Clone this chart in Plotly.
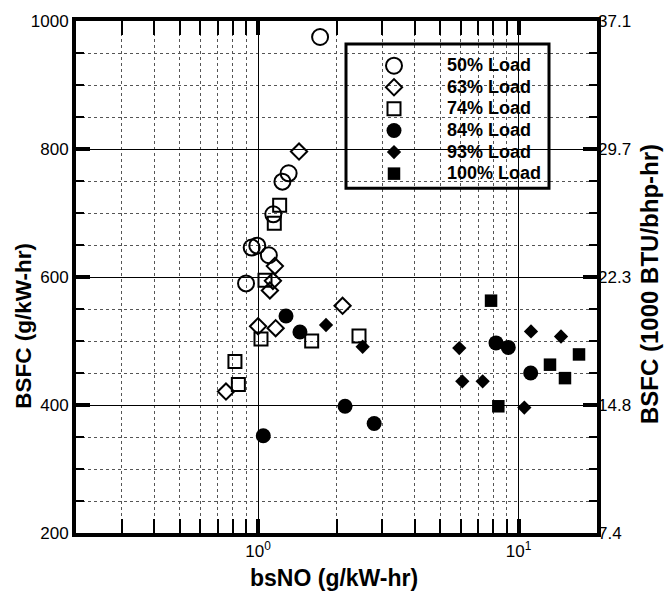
import plotly.graph_objects as go
import math

# ---- data ----
x50 = [1.73, 1.31, 1.24, 1.144, 0.945, 0.993, 1.10, 0.899]
y50 = [975, 762, 749, 698, 646, 649, 634, 590]
x63 = [1.436, 1.16, 1.14, 1.11, 2.11, 1.0, 1.168, 0.753]
y63 = [796, 617, 594, 579, 555, 523, 520, 421]
x74 = [1.21, 1.154, 1.063, 1.026, 1.606, 2.44, 0.815, 0.84]
y74 = [712, 684, 595, 503, 500, 508, 468, 432]
x84 = [1.28, 1.448, 2.157, 2.79, 1.047, 8.19, 9.13, 11.13]
y84 = [539, 514, 398, 371, 352, 497, 490, 450]
x93 = [1.823, 2.52, 5.92, 6.08, 7.28, 11.16, 14.55, 10.52]
y93 = [525, 491, 489, 437, 437, 515, 507, 396]
x100 = [7.84, 8.36, 13.2, 15.07, 17.06]
y100 = [563, 398, 463, 442, 479]

labels = ["50% Load", "63% Load", "74% Load", "84% Load", "93% Load", "100% Load"]

x_major = [1, 10]
x_major_text = ["10<sup>0</sup>", "10<sup>1</sup>"]
x_minor = [0.3, 0.4, 0.5, 0.6, 0.7, 0.8, 0.9, 2, 3, 4, 5, 6, 7, 8, 9]
y_major = [200, 400, 600, 800, 1000]
y_right_text = ["7.4", "14.8", "22.3", "29.7", "37.1"]

FONT = "Liberation Sans, Arial, Helvetica, sans-serif"

fig = go.Figure()

styles = [
    (x50, y50, "circle-open", 16, 2),
    (x63, y63, "diamond-open", 12.5, 2),
    (x74, y74, "square-open", 13, 2),
    (x84, y84, "circle", 15, 0),
    (x93, y93, "diamond", 11, 0),
    (x100, y100, "square", 12.5, 0),
]
for (xs, ys, sym, sz, lw), name in zip(styles, labels):
    fig.add_trace(go.Scatter(
        x=xs, y=ys, mode="markers",
        name='<span style="font-size:18px">' + name + "</span>",
        marker=dict(symbol=sym, size=sz, color="black",
                    line=dict(width=lw, color="black")),
    ))

# invisible trace to carry the right-hand axis
fig.add_trace(go.Scatter(x=x50, y=y50, yaxis="y2", mode="markers",
                         marker=dict(opacity=0), showlegend=False,
                         hoverinfo="skip"))

L, R, T, B = 76, 597, 19, 533
W, H = 670, 592
pw, ph = R - L, B - T

def px(xp):
    return (xp - L) / pw

def py(yp):
    return (B - yp) / ph

tick_font = dict(size=17, family=FONT, color="black")

fig.update_layout(
    width=W, height=H,
    margin=dict(l=L, r=W - R, t=T, b=H - B, pad=0),
    plot_bgcolor="white", paper_bgcolor="white",
    font=dict(family=FONT, color="black", size=16),
    showlegend=True,
    legend=dict(
        x=px(341), y=py(48), xanchor="left", yanchor="top",
        bgcolor="rgba(0,0,0,0)", borderwidth=0,
        font=dict(family=FONT, size=14.3, color="black", weight="bold"),
        itemwidth=96, tracegroupgap=0,
    ),
    xaxis=dict(
        type="log", range=[math.log10(0.2), math.log10(20)],
        tickmode="array", tickvals=x_major, ticktext=x_major_text,
        ticks="inside", ticklen=14, tickwidth=4, tickcolor="black",
        showline=True, linewidth=4, linecolor="black", mirror="allticks",
        showgrid=True, gridcolor="black", gridwidth=1, zeroline=False,
        tickfont=tick_font,
        minor=dict(tickmode="array", tickvals=x_minor, ticks="inside",
                   ticklen=8, tickwidth=2, tickcolor="black",
                   showgrid=True, gridcolor="#555", griddash="dot", gridwidth=1),
    ),
    yaxis=dict(
        range=[200, 1000], tickmode="array", tickvals=y_major,
        ticks="inside", ticklen=14, tickwidth=4, tickcolor="black",
        showline=True, linewidth=4, linecolor="black", mirror="allticks",
        showgrid=True, gridcolor="black", gridwidth=1, zeroline=False,
        tickfont=tick_font,
        minor=dict(dtick=50, tick0=200, ticks="inside",
                   ticklen=8, tickwidth=2, tickcolor="black",
                   showgrid=True, gridcolor="#555", griddash="dot", gridwidth=1),
    ),
    yaxis2=dict(
        overlaying="y", side="right", range=[200, 1000],
        tickmode="array", tickvals=y_major, ticktext=y_right_text,
        ticks="", showgrid=False, showline=False, zeroline=False,
        tickfont=tick_font,
    ),
    shapes=[dict(type="rect", xref="paper", yref="paper",
                 x0=px(346), x1=px(549), y0=py(187), y1=py(42),
                 line=dict(color="black", width=3), fillcolor="rgba(0,0,0,0)",
                 layer="above")],
    annotations=[
        dict(text="<b>BSFC (g/kW-hr)</b>", xref="paper", yref="paper",
             x=px(24), y=py(325), textangle=-90, showarrow=False,
             font=dict(size=22.5, family=FONT, color="black"),
             xanchor="center", yanchor="middle"),
        dict(text="<b>BSFC (1000 BTU/bhp-hr)</b>", xref="paper", yref="paper",
             x=px(650), y=py(283), textangle=-90, showarrow=False,
             font=dict(size=24, family=FONT, color="black"),
             xanchor="center", yanchor="middle"),
        dict(text="<b>bsNO (g/kW-hr)</b>", xref="paper", yref="paper",
             x=px(334), y=py(578), showarrow=False,
             font=dict(size=23, family=FONT, color="black"),
             xanchor="center", yanchor="middle"),
    ],
)

fig.write_html("out.html")
